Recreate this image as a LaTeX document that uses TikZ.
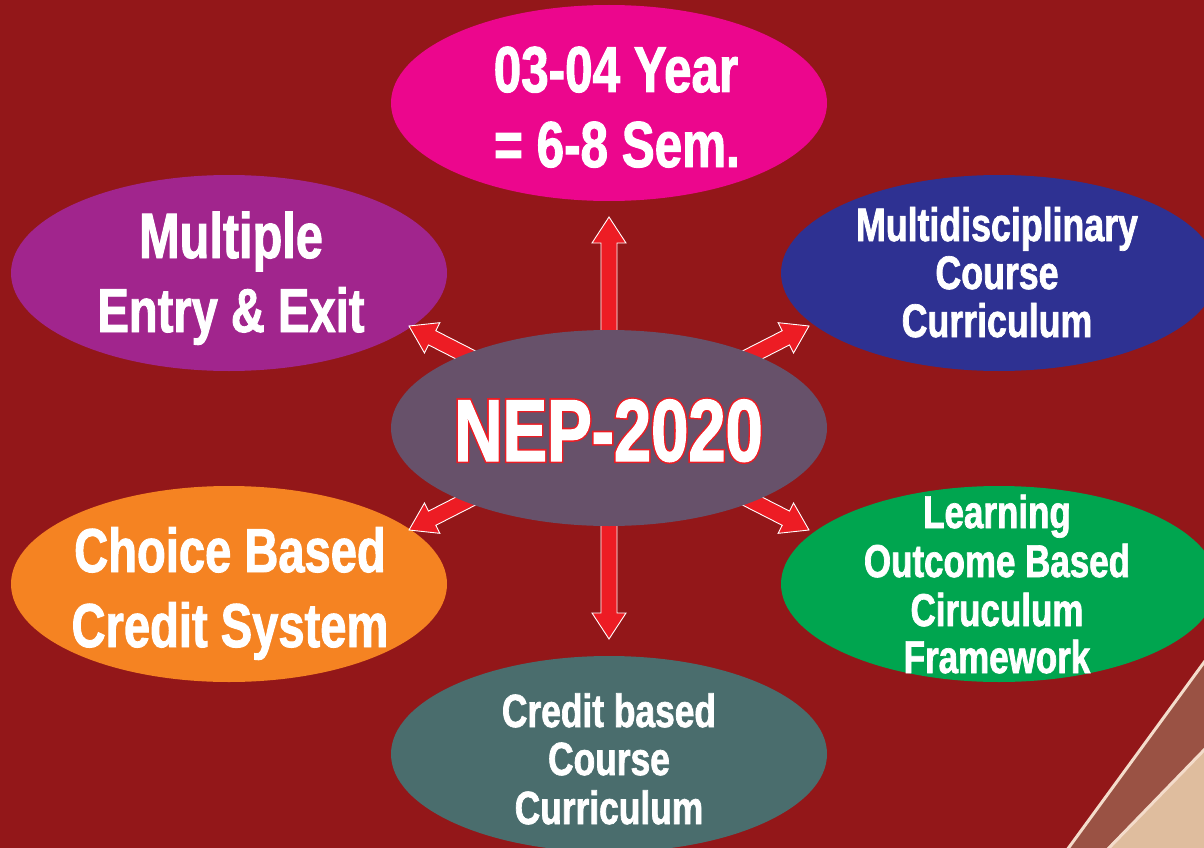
\documentclass[tikz,border=0pt]{standalone}
\usepackage{fontspec}
\setmainfont{Liberation Sans}[FakeStretch=0.76]
\newfontfamily\hv{Liberation Sans}[UprightFont={* Bold},FakeStretch=0.76,FakeBold=1.5]
\newfontfamily\hvo{Liberation Sans}[UprightFont={* Bold},FakeStretch=0.76,FakeBold=5]
\usetikzlibrary{shapes.geometric,calc}
\definecolor{bgred}{HTML}{931719}
\definecolor{arrred}{HTML}{ED1C24}
\definecolor{cmag}{HTML}{EC068D}
\definecolor{cpur}{HTML}{A1258D}
\definecolor{cnavy}{HTML}{2E3192}
\definecolor{corange}{HTML}{F58322}
\definecolor{cgreen}{HTML}{00A54F}
\definecolor{cteal}{HTML}{4A6D6D}
\definecolor{ccenter}{HTML}{67516A}
\definecolor{cbrown}{HTML}{9A5244}
\definecolor{ctan}{HTML}{DFBD9E}
\definecolor{clight}{HTML}{F4DCCB}
\newcommand\fs[1]{\fontsize{#1}{#1}\selectfont}
\newcommand\redoutline[1]{\leavevmode\rlap{\hvo\color{arrred}#1}#1}
\newcommand\fatarrow[2]{%
  \coordinate (hb) at ($(#2)!26pt!(#1)$);
  \fill[arrred,draw=white,line width=0.9pt,line join=miter]
    ($(#1)!8pt!90:(#2)$) -- ($(hb)!8pt!-90:(#1)$) -- ($(hb)!17pt!-90:(#1)$) -- (#2)
    -- ($(hb)!17pt!90:(#1)$) -- ($(hb)!8pt!90:(#1)$) -- ($(#1)!8pt!-90:(#2)$) -- cycle;}
\tikzset{
  blob/.style={ellipse,draw=none,inner sep=0pt,minimum width=436pt,minimum height=196pt},
  txt/.style={text=white,anchor=base,inner sep=0pt}
}
\begin{document}
\begin{tikzpicture}[x=1pt,y=-1pt]
\useasboundingbox (0,0) rectangle (1204,848);
\clip (0,0) rectangle (1204,848);
\fill[bgred] (0,0) rectangle (1204,848);
% corner decoration
\fill[cbrown] (1067,848) -- (1204,662) -- (1204,848) -- cycle;
\fill[ctan] (1107,848) -- (1204,750) -- (1204,848) -- cycle;
\draw[clight,line width=3pt] (1067,850) -- (1205,661);
\draw[clight,line width=3pt] (1107,850) -- (1205,749);
% outer ellipses
\node[blob,fill=cmag] (e1) at (609,103) {};
\node[blob,fill=cpur] (e2) at (229,273) {};
\node[blob,fill=cnavy] (e3) at (999,273) {};
\node[blob,fill=corange] (e4) at (229,584) {};
\node[blob,fill=cgreen] (e5) at (999,584) {};
\node[blob,fill=cteal] (e6) at (609,754) {};
% arrows
\coordinate (c) at (609,428);
\coordinate (tU) at (609,217);
\coordinate (tD) at (609,639);
\coordinate (tUL) at (409,326);
\coordinate (tUR) at (809,326);
\coordinate (tDL) at (409,530);
\coordinate (tDR) at (809,530);
\fatarrow{c}{tU}
\fatarrow{c}{tD}
\fatarrow{c}{tUL}
\fatarrow{c}{tUR}
\fatarrow{c}{tDL}
\fatarrow{c}{tDR}
% centre
\node[blob,fill=ccenter] (e0) at (c) {};
\node[txt,font=\hv\fs{88}] (n0) at (608.5,461) {\redoutline{NEP-2020}};
% texts
\node[txt,font=\hv\fs{65}] (n1a) at (616,92) {03-04 Year};
\node[txt,font=\hv\fs{65}] (n1b) at (617,167) {= 6-8 Sem.};
\node[txt,font=\hv\fs{64}] (n2a) at (231,258) {Multiple};
\node[txt,font=\hv\fs{62}] (n2b) at (231,332) {Entry \& Exit};
\node[txt,font=\hv\fs{47}] (n3a) at (997,241) {Multidisciplinary};
\node[txt,font=\hv\fs{47}] (n3b) at (997,289) {Course};
\node[txt,font=\hv\fs{47}] (n3c) at (997,337) {Curriculum};
\node[txt,font=\hv\fs{62}] (n4a) at (230,572) {Choice Based};
\node[txt,font=\hv\fs{62}] (n4b) at (230,647) {Credit System};
\node[txt,font=\hv\fs{46}] (n5a) at (997,528) {Learning};
\node[txt,font=\hv\fs{46}] (n5b) at (997,577) {Outcome Based};
\node[txt,font=\hv\fs{46}] (n5c) at (997,626) {Ciruculum};
\node[txt,font=\hv\fs{46}] (n5d) at (997,673) {Framework};
\node[txt,font=\hv\fs{46.5}] (n6a) at (609,727) {Credit based};
\node[txt,font=\hv\fs{46.5}] (n6b) at (609,775) {Course};
\node[txt,font=\hv\fs{46.5}] (n6c) at (609,824) {Curriculum};
\end{tikzpicture}
\end{document}
